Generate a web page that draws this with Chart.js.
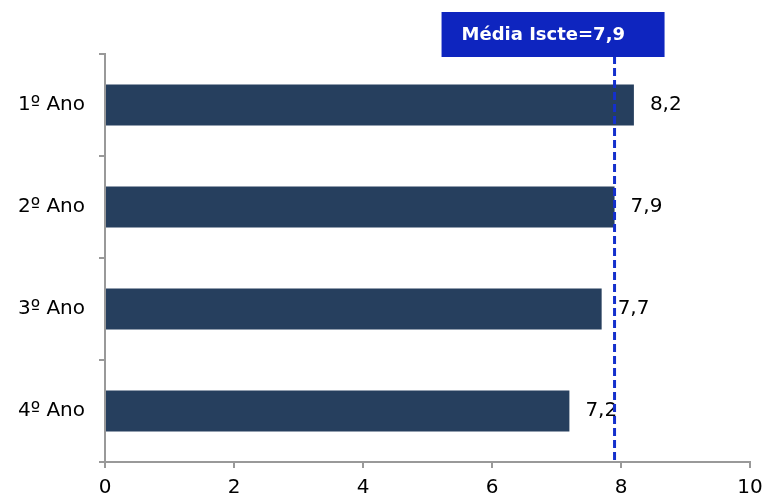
<!DOCTYPE html>
<html>
<head>
<meta charset="utf-8">
<script src="https://cdn.jsdelivr.net/npm/chart.js@4"></script>
<style>
  html, body { margin: 0; padding: 0; background: #fff; }
  #wrap { width: 766px; height: 500px; }
</style>
</head>
<body>
<div id="wrap"><canvas id="anos-chart" width="766" height="500"></canvas></div>
<script>
// data
const labelAnos = ["1º Ano", "2º Ano", "3º Ano", "4º Ano"];
const mediaAnos = [8.2, 7.9, 7.7, 7.2];
const mediaIscte = 7.9;
const mediaText = "Média Iscte=7,9";

const fontName = "'DejaVu Sans', Verdana, sans-serif";

// labels at the end of each bar + the dashed average line and its box
const extras = {
    id: "extras",
    afterDatasetsDraw(chart) {
        const ctx = chart.ctx;
        const xs = chart.scales.x;
        const area = chart.chartArea;
        const meta = chart.getDatasetMeta(0);

        ctx.save();
        ctx.font = "20px " + fontName;
        ctx.fillStyle = "#000";
        ctx.textBaseline = "middle";
        ctx.textAlign = "left";
        meta.data.forEach(function(bar, i) {
            ctx.fillText(String(mediaAnos[i]).replace(".", ","), bar.x + 16, bar.y);
        });

        // dashed line
        const lx = xs.getPixelForValue(mediaIscte);
        ctx.strokeStyle = "#1430cc";
        ctx.lineWidth = 3;
        ctx.setLineDash([8, 4]);
        ctx.beginPath();
        ctx.moveTo(lx, 56);
        ctx.lineTo(lx, area.bottom + 1);
        ctx.stroke();
        ctx.setLineDash([]);

        // box
        ctx.fillStyle = "#0e25bf";
        ctx.fillRect(lx - 173, 12, 223, 45);
        ctx.fillStyle = "#fff";
        ctx.font = "bold 18px " + fontName;
        ctx.textAlign = "left";
        ctx.fillText(mediaText, lx - 153, 35);
        ctx.restore();
    }
};

new Chart("anos-chart", {
    type: "bar",
    data: {
        labels: labelAnos,
        datasets: [{
            data: mediaAnos,
            backgroundColor: "#263f5e",
            borderWidth: 0,
            barPercentage: 0.4,
            categoryPercentage: 1
        }]
    },
    options: {
        indexAxis: "y",
        responsive: false,
        animation: false,
        layout: { padding: { top: 54, right: 16, bottom: 0, left: 0 } },
        plugins: {
            legend: { display: false },
            tooltip: { enabled: false }
        },
        scales: {
            x: {
                min: 0,
                max: 10,
                ticks: {
                    stepSize: 2,
                    color: "#000",
                    padding: 8,
                    font: { family: fontName, size: 20 }
                },
                grid: {
                    drawOnChartArea: false,
                    drawTicks: true,
                    tickLength: 6,
                    color: "#999",
                    lineWidth: 2
                },
                border: { color: "#999", width: 2 },
                afterFit: function(scale) {
                    scale.height = 38;
                    scale.paddingRight = 0;
                }
            },
            y: {
                ticks: {
                    color: "#000",
                    padding: 14,
                    font: { family: fontName, size: 20 }
                },
                grid: {
                    offset: true,
                    drawOnChartArea: false,
                    drawTicks: true,
                    tickLength: 6,
                    color: "#999",
                    lineWidth: 2
                },
                border: { color: "#999", width: 2 },
                afterFit: function(scale) { scale.width = 105; }
            }
        }
    },
    plugins: [extras]
});
</script>
</body>
</html>
